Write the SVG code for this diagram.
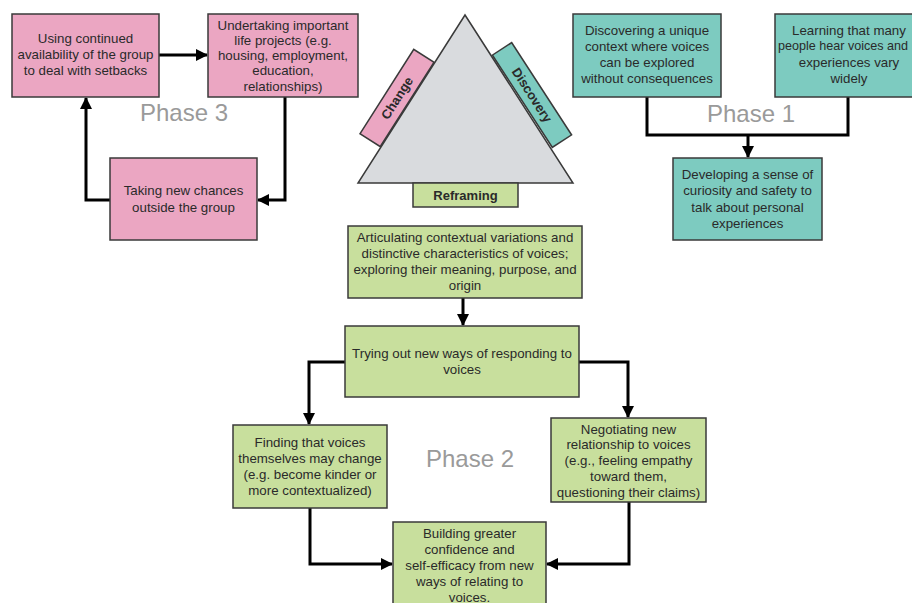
<svg xmlns="http://www.w3.org/2000/svg" width="912" height="603" viewBox="0 0 912 603">
<defs>
<style>
.box{stroke:#3a3a3a;stroke-width:1.5}
.pink{fill:#EBA6C2}
.teal{fill:#7DCBC0}
.green{fill:#C8DF9D}
.t{font-family:"Liberation Sans",Arial,sans-serif;font-size:13.3px;fill:#2a2a2a;text-anchor:middle;dominant-baseline:central}
.b{font-family:"Liberation Sans",Arial,sans-serif;font-size:13px;font-weight:bold;fill:#2a2a2a;text-anchor:middle;dominant-baseline:central}
.ph{font-family:"Liberation Sans",Arial,sans-serif;font-size:24px;fill:#9a9a9a;text-anchor:middle;dominant-baseline:central}
.c{fill:none;stroke:#000;stroke-width:3}
</style>
<marker id="ah" markerUnits="userSpaceOnUse" markerWidth="12" markerHeight="12" refX="11" refY="6" orient="auto" viewBox="0 0 12 12">
<path d="M0,0 L12,6 L0,12 z" fill="#000"/>
</marker>
</defs>
<rect width="912" height="603" fill="#fff"/>

<g id="triangle">
<polygon points="465,15 358,183 573,183" fill="#D9DBDE" stroke="#3a3a3a" stroke-width="1.5"/>
</g>
<g id="change">
<g transform="translate(397,98) rotate(-57.5)">
<rect class="box pink" x="-50" y="-12" width="100" height="24"/>
<text class="b" x="0" y="0">Change</text>
</g>
</g>
<g id="discovery">
<g transform="translate(532,95) rotate(57)">
<rect class="box teal" x="-55" y="-11.5" width="110" height="23"/>
<text class="b" x="0" y="0">Discovery</text>
</g>
</g>
<g id="reframing">
<rect class="box green" x="413" y="183" width="105" height="24"/>
<text class="b" x="465.5" y="195">Reframing</text>
</g>

<g id="phase-labels">
<text class="ph" x="184" y="112">Phase 3</text>
<text class="ph" x="751" y="113">Phase 1</text>
<text class="ph" x="470" y="458">Phase 2</text>
</g>

<g id="connectors">
<line class="c" x1="159" y1="55" x2="207" y2="55" marker-end="url(#ah)"/>
<polyline class="c" points="285,97 285,200 258,200" marker-end="url(#ah)"/>
<polyline class="c" points="110,200 86,200 86,98" marker-end="url(#ah)"/>
<polyline class="c" points="647,97 647,135 848,135 848,97"/>
<line class="c" x1="748" y1="135" x2="748" y2="157" marker-end="url(#ah)"/>
<line class="c" x1="463" y1="298" x2="463" y2="325" marker-end="url(#ah)"/>
<polyline class="c" points="345,362 309,362 309,424" marker-end="url(#ah)"/>
<polyline class="c" points="579,362 628,362 628,417" marker-end="url(#ah)"/>
<polyline class="c" points="310,508 310,564 392,564" marker-end="url(#ah)"/>
<polyline class="c" points="629,502 629,564 547,564" marker-end="url(#ah)"/>
</g>

<g id="p3-setbacks">
<rect class="box pink" x="12" y="14" width="147" height="83"/>
<text class="t" x="85.5" y="38">Using continued</text>
<text class="t" x="85.5" y="54">availability of the group</text>
<text class="t" x="85.5" y="70">to deal with setbacks</text>
</g>
<g id="p3-projects">
<rect class="box pink" x="208" y="14" width="150" height="83"/>
<text class="t" x="283" y="25">Undertaking important</text>
<text class="t" x="283" y="40">life projects (e.g.</text>
<text class="t" x="283" y="55">housing, employment,</text>
<text class="t" x="283" y="70">education,</text>
<text class="t" x="283" y="86">relationships)</text>
</g>
<g id="p3-chances">
<rect class="box pink" x="110" y="158" width="147" height="82"/>
<text class="t" x="183.5" y="190">Taking new chances</text>
<text class="t" x="183.5" y="207">outside the group</text>
</g>

<g id="p1-context">
<rect class="box teal" x="573" y="14" width="148" height="83"/>
<text class="t" x="647" y="30">Discovering a unique</text>
<text class="t" x="647" y="46">context where voices</text>
<text class="t" x="647" y="62">can be explored</text>
<text class="t" x="647" y="78">without consequences</text>
</g>
<g id="p1-learning">
<rect class="box teal" x="775" y="14" width="148" height="83"/>
<text class="t" x="849" y="30">Learning that many</text>
<text class="t" x="843" y="46" style="font-size:12.6px">people hear voices and</text>
<text class="t" x="849" y="62">experiences vary</text>
<text class="t" x="849" y="78">widely</text>
</g>
<g id="p1-curiosity">
<rect class="box teal" x="673" y="158" width="149" height="82"/>
<text class="t" x="747.5" y="174">Developing a sense of</text>
<text class="t" x="747.5" y="190">curiosity and safety to</text>
<text class="t" x="747.5" y="207">talk about personal</text>
<text class="t" x="747.5" y="223">experiences</text>
</g>

<g id="p2-articulating">
<rect class="box green" x="348" y="226" width="234" height="72"/>
<text class="t" x="465" y="237">Articulating contextual variations and</text>
<text class="t" x="465" y="253">distinctive characteristics of voices;</text>
<text class="t" x="465" y="269">exploring their meaning, purpose, and</text>
<text class="t" x="465" y="285">origin</text>
</g>
<g id="p2-trying">
<rect class="box green" x="345" y="326" width="234" height="71"/>
<text class="t" x="462" y="353">Trying out new ways of responding to</text>
<text class="t" x="462" y="369">voices</text>
</g>
<g id="p2-finding">
<rect class="box green" x="233" y="425" width="154" height="83"/>
<text class="t" x="310" y="442">Finding that voices</text>
<text class="t" x="310" y="458">themselves may change</text>
<text class="t" x="310" y="474">(e.g. become kinder or</text>
<text class="t" x="310" y="490">more contextualized)</text>
</g>
<g id="p2-negotiating">
<rect class="box green" x="551" y="418" width="155" height="84"/>
<text class="t" x="628.5" y="429">Negotiating new</text>
<text class="t" x="628.5" y="444">relationship to voices</text>
<text class="t" x="628.5" y="460">(e.g., feeling empathy</text>
<text class="t" x="628.5" y="476">toward them,</text>
<text class="t" x="628.5" y="492">questioning their claims)</text>
</g>
<g id="p2-building">
<rect class="box green" x="393" y="522" width="153" height="82"/>
<text class="t" x="469.5" y="533">Building greater</text>
<text class="t" x="469.5" y="549">confidence and</text>
<text class="t" x="469.5" y="565">self-efficacy from new</text>
<text class="t" x="469.5" y="581">ways of relating to</text>
<text class="t" x="469.5" y="597">voices.</text>
</g>
</svg>
